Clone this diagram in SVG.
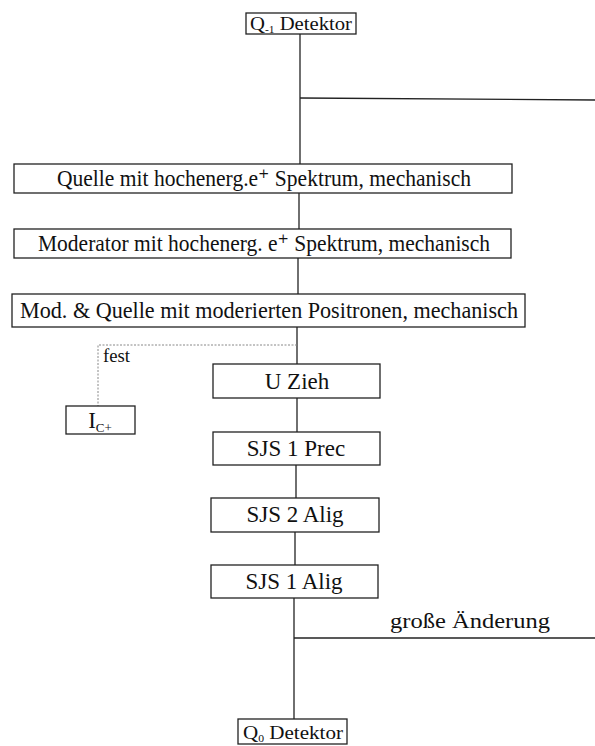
<svg xmlns="http://www.w3.org/2000/svg" width="595" height="746" viewBox="0 0 595 746">
<style>
.box{fill:#fff;stroke:#222;stroke-width:1.3}
.t{font-family:"Liberation Serif","Times New Roman","DejaVu Serif",serif;fill:#111;text-anchor:middle}
.big{font-size:23px}
.node{font-size:23px}
.mid{font-size:20px}
.small{font-size:18px}
.ln{stroke:#222;stroke-width:1.3;fill:none}
.dash{stroke:#888;stroke-width:1;stroke-dasharray:2 1.5;fill:none}
</style>
<rect width="595" height="746" fill="#fff"/>
<g id="connectors">
<path class="ln" d="M300 34 V164"/>
<path class="ln" d="M300 98 L595 100"/>
<path class="ln" d="M299 193 V229"/>
<path class="ln" d="M298 258 V294"/>
<path class="ln" d="M297 327 V364"/>
<path class="dash" d="M297 345 H98 V406"/>
<path class="ln" d="M297 398 V432"/>
<path class="ln" d="M296 465 V498"/>
<path class="ln" d="M295 532 V565"/>
<path class="ln" d="M294 598 V719"/>
<path class="ln" d="M294 638 H595"/>
<text class="t small" x="103" y="362" style="text-anchor:start" textLength="27" lengthAdjust="spacingAndGlyphs">fest</text>
<text class="t mid" x="390" y="628" style="text-anchor:start" textLength="160" lengthAdjust="spacingAndGlyphs">große Änderung</text>
</g>
<g id="q1">
<rect class="box" x="246" y="13" width="110" height="21"/>
<text class="t small" x="301" y="30" textLength="102" lengthAdjust="spacingAndGlyphs">Q<tspan font-size="10" dy="3">-1</tspan><tspan dy="-3"> Detektor</tspan></text>
</g>
<g id="quelle">
<rect class="box" x="14" y="164" width="498" height="29"/>
<text class="t big" x="264" y="186" textLength="414" lengthAdjust="spacingAndGlyphs">Quelle mit hochenerg.e⁺  Spektrum, mechanisch</text>
</g>
<g id="moderator">
<rect class="box" x="14" y="229" width="497" height="29"/>
<text class="t big" x="264" y="251" textLength="452" lengthAdjust="spacingAndGlyphs">Moderator mit hochenerg. e⁺ Spektrum, mechanisch</text>
</g>
<g id="modquelle">
<rect class="box" x="12" y="294" width="513" height="33"/>
<text class="t big" x="269" y="318" textLength="498" lengthAdjust="spacingAndGlyphs">Mod. &amp; Quelle mit moderierten Positronen, mechanisch</text>
</g>
<g id="ic">
<rect class="box" x="66" y="406" width="69" height="28"/>
<text class="t node" x="100" y="428">I<tspan font-size="13" dy="4">C+</tspan></text>
</g>
<g id="uzieh">
<rect class="box" x="213" y="364" width="167" height="34"/>
<text class="t node" x="297" y="389">U Zieh</text>
</g>
<g id="sjs1prec">
<rect class="box" x="213" y="432" width="167" height="33"/>
<text class="t node" x="296" y="456">SJS 1 Prec</text>
</g>
<g id="sjs2alig">
<rect class="box" x="211" y="498" width="168" height="34"/>
<text class="t node" x="295" y="522">SJS 2 Alig</text>
</g>
<g id="sjs1alig">
<rect class="box" x="211" y="565" width="167" height="33"/>
<text class="t node" x="294" y="589">SJS 1 Alig</text>
</g>
<g id="q0">
<rect class="box" x="238" y="719" width="109" height="25"/>
<text class="t small" x="293" y="739" textLength="100" lengthAdjust="spacingAndGlyphs">Q<tspan font-size="10" dy="3">0</tspan><tspan dy="-3"> Detektor</tspan></text>
</g>
</svg>
